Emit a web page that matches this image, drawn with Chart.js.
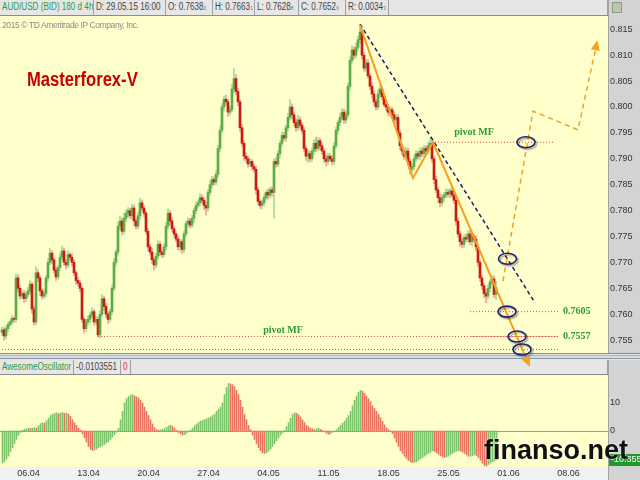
<!DOCTYPE html>
<html>
<head>
<meta charset="utf-8">
<title>AUD/USD 4h</title>
<script src="https://cdn.jsdelivr.net/npm/chart.js@4.4.1/dist/chart.umd.min.js"></script>
<style>
body{margin:0;width:640px;height:480px;overflow:hidden;background:#d3d3d3;position:relative;font-family:"Liberation Sans",Arial,sans-serif}
.strip{position:absolute;left:0;width:608px;background:#e6e6e6;border-bottom:1px solid #8c8c8c;box-sizing:border-box}
.cell{position:absolute;top:0;bottom:0;line-height:14px;font-size:10px;color:#444;border-right:1px solid #a0a0a0;padding-left:2px;box-sizing:border-box;white-space:nowrap;overflow:hidden}
.cell span{display:inline-block;transform:scaleX(0.81);transform-origin:0 50%}
.cell small{font-size:6px;color:#777}
#sep{position:absolute;left:0;top:353px;width:640px;height:7px;background:linear-gradient(#7f8a96 0 1px,#e8ebee 1px 2px,#a9b1ba 2px 3px,#d8dce0 3px 5px,#8e98a3 5px 6px,#e6e6e6 6px)}
#dates{position:absolute;left:0;top:467px;width:608px;height:13px;background:#f1f1f1}
#rightcol{position:absolute;left:608px;top:0;width:32px;height:480px;border-left:1px solid #a3a3a3;box-sizing:border-box}
#icon{position:absolute;left:612px;top:2px;width:10px;height:11px;background:#b9c6b2;border:1px solid #8d9c84;box-sizing:border-box}
canvas{position:absolute;left:0}
#main{top:16px;z-index:2}
#osc{top:375px;z-index:2}
#brand{position:absolute;left:27px;top:69px;font-weight:bold;font-size:20px;line-height:20px;color:#c80000;transform:scaleX(0.83);transform-origin:0 0;z-index:3;white-space:nowrap}
#copy{position:absolute;left:2px;top:20px;font-size:8.5px;line-height:11px;letter-spacing:-0.4px;color:#8b8b8b;z-index:3;white-space:nowrap}
#mark{position:absolute;left:484px;top:437px;font-weight:bold;font-size:27px;line-height:27px;color:#111;text-shadow:0 0 2px #fff;z-index:5;white-space:nowrap}
</style>
</head>
<body>

<div id="rightcol"></div>
<div id="icon"></div>

<div class="strip" style="top:0;height:16px">
  <div class="cell" style="left:0;width:94px;color:#2e9a3e"><span>AUD/USD (BID) 180 d 4h</span></div>
  <div class="cell" style="left:94px;width:72px"><span>D: 29.05.15 16:00</span></div>
  <div class="cell" style="left:166px;width:47px"><span>O: 0.7638<small>2</small></span></div>
  <div class="cell" style="left:213px;width:42px"><span>H: 0.7663<small>1</small></span></div>
  <div class="cell" style="left:255px;width:44px"><span>L: 0.7628<small>8</small></span></div>
  <div class="cell" style="left:299px;width:47px"><span>C: 0.7652<small>6</small></span></div>
  <div class="cell" style="left:346px;width:43px"><span>R: 0.0034<small>3</small></span></div>
  <div class="cell" style="left:389px;width:219px"></div>
</div>

<div id="sep"></div>

<div class="strip" style="top:360px;height:15px">
  <div class="cell" style="left:0;width:74px;color:#2e9a3e"><span>AwesomeOscillator</span></div>
  <div class="cell" style="left:74px;width:47px"><span>-0.0103551</span></div>
  <div class="cell" style="left:121px;width:10px;color:#e03030"><span>0</span></div>
  <div class="cell" style="left:131px;width:477px"></div>
</div>

<div id="dates"></div>

<canvas id="main" width="640" height="357"></canvas>
<canvas id="osc" width="640" height="105"></canvas>

<div id="copy">2015 © TD Ameritrade IP Company, Inc.</div>
<div id="brand">Masterforex-V</div>
<div id="mark">finanso.net</div>

<script>
// ------------------------------------
// PRICE DATA (4h bars, in pips)
// ------------------------------------

const firstOpen = 7565

const closePips = [
7570, 7558, 7572, 7580, 7585, 7592, 7590, 7670, 7650, 7635,
7640, 7630, 7638, 7645, 7658, 7610, 7585, 7680, 7670, 7645,
7635, 7640, 7670, 7700, 7718, 7705, 7685, 7672, 7690, 7710,
7722, 7700, 7695, 7715, 7710, 7700, 7680, 7665, 7660, 7650,
7590, 7572, 7585, 7590, 7598, 7605, 7585, 7590, 7560, 7600,
7630, 7615, 7600, 7590, 7605, 7650, 7700, 7720, 7770, 7780,
7760, 7785, 7795, 7800, 7790, 7805, 7780, 7770, 7790, 7815,
7805, 7795, 7760, 7730, 7720, 7705, 7695, 7712, 7735, 7720,
7715, 7730, 7770, 7795, 7780, 7765, 7755, 7745, 7730, 7740,
7725, 7755, 7775, 7780, 7772, 7785, 7800, 7810, 7815, 7825,
7820, 7810, 7805, 7835, 7850, 7860, 7855, 7870, 7920, 7955,
8000, 8015, 8010, 7990, 7995, 8035, 8055, 8030, 8010, 7960,
7930, 7905, 7900, 7890, 7895, 7885, 7880, 7840, 7818, 7810,
7815, 7825, 7835, 7830, 7840, 7835, 7895, 7890, 7910, 7930,
7945, 7940, 7960, 7980, 8000, 7985, 7970, 7960, 7975, 7965,
7955, 7920, 7905, 7910, 7900, 7915, 7930, 7920, 7935, 7925,
7915, 7900, 7895, 7905, 7900, 7895, 7925, 7955, 7970, 7980,
7990, 7975, 7985, 8040, 8090, 8110, 8100, 8115, 8130, 8145,
8100, 8075, 8085, 8060, 8040, 8025, 8010, 8000, 8025, 8035,
8020, 8005, 8000, 7990, 7995, 7985, 7975, 7980, 7950, 7925,
7915, 7905, 7915, 7895, 7880, 7885, 7900, 7910, 7905, 7915,
7910, 7920, 7915, 7925, 7930, 7900, 7860, 7840, 7825, 7815,
7825, 7830, 7835, 7832, 7838, 7830, 7820, 7780, 7755, 7740,
7735, 7748, 7745, 7755, 7740, 7750, 7745, 7730, 7700, 7670,
7655, 7640, 7635, 7650, 7662, 7668, 7638, 7652
]

// wick lengths above / below the body, pips
const wickUp = [
5, 4, 6, 5, 4, 6, 3, 8, 6, 5,
4, 6, 5, 7, 8, 4, 5, 12, 6, 5,
4, 6, 5, 7, 9, 5, 4, 6, 5, 7,
10, 6, 5, 8, 4, 6, 5, 4, 6, 5,
4, 5, 6, 7, 5, 8, 4, 6, 5, 7,
8, 5, 6, 4, 5, 6, 7, 5, 8, 9,
6, 10, 7, 6, 5, 8, 6, 5, 7, 9,
6, 5, 4, 6, 5, 7, 5, 6, 8, 5,
4, 6, 7, 9, 5, 6, 4, 5, 6, 5,
4, 6, 5, 7, 5, 6, 5, 7, 6, 8,
6, 5, 7, 6, 8, 6, 5, 7, 6, 8,
7, 6, 8, 5, 7, 9, 20, 8, 6, 5,
6, 5, 7, 5, 6, 4, 5, 6, 5, 4,
5, 6, 4, 7, 5, 6, 5, 7, 6, 5,
7, 6, 5, 8, 14, 6, 5, 7, 9, 6,
5, 6, 5, 8, 5, 6, 7, 12, 6, 5,
6, 5, 7, 6, 5, 6, 7, 6, 5, 8,
7, 6, 8, 6, 7, 8, 6, 9, 7, 13,
6, 5, 7, 6, 5, 7, 6, 5, 8, 6,
5, 6, 7, 5, 6, 5, 7, 6, 5, 6,
5, 6, 7, 5, 6, 5, 7, 6, 5, 6,
7, 6, 5, 7, 9, 6, 5, 6, 5, 7,
6, 5, 7, 6, 5, 6, 7, 5, 6, 5,
6, 5, 7, 6, 8, 6, 5, 7, 6, 5,
6, 5, 7, 6, 5, 7, 6, 11
]

const wickDn = [
6, 8, 5, 6, 4, 5, 6, 5, 7, 6,
5, 7, 6, 5, 6, 8, 6, 5, 7, 9,
6, 5, 7, 6, 5, 8, 6, 7, 5, 6,
5, 6, 8, 5, 6, 7, 5, 8, 6, 7,
6, 8, 5, 6, 7, 5, 6, 5, 4, 6,
5, 7, 6, 8, 5, 6, 5, 7, 6, 8,
7, 5, 6, 8, 6, 7, 9, 6, 5, 7,
6, 7, 5, 8, 6, 7, 10, 5, 6, 7,
6, 5, 7, 6, 8, 6, 7, 5, 6, 8,
7, 6, 5, 7, 6, 5, 8, 6, 5, 7,
6, 8, 14, 6, 5, 7, 6, 5, 7, 6,
5, 7, 6, 8, 6, 5, 7, 6, 8, 7,
6, 8, 7, 6, 5, 7, 6, 8, 7, 6,
7, 6, 5, 8, 6, 7, 50, 6, 5, 7,
6, 5, 7, 6, 5, 8, 6, 7, 5, 6,
7, 6, 8, 12, 6, 5, 7, 6, 5, 8,
6, 7, 9, 6, 5, 7, 6, 5, 7, 6,
5, 7, 6, 5, 7, 6, 8, 5, 6, 7,
8, 6, 7, 5, 6, 8, 7, 6, 5, 7,
6, 5, 7, 6, 8, 6, 5, 7, 6, 8,
7, 6, 5, 8, 10, 6, 7, 5, 6, 7,
6, 5, 7, 6, 5, 7, 8, 6, 9, 7,
6, 7, 5, 6, 7, 5, 6, 8, 7, 9,
7, 6, 5, 7, 6, 8, 6, 7, 8, 6,
7, 8, 13, 6, 7, 5, 6, 10
]

// Awesome Oscillator, one value per bar (x1000)
const aoValues = [
-11.5, -11, -10, -9, -7.5, -6, -4.5, -3, -1.5, -0.5,
0.3, 0.6, 0.8, 1, 0.9, 1, 1.2, 1,
1.8, 2.6, 3, 2.8, 3.6, 4.5, 5.5,
6, 6.3, 6.5, 6.2, 6.4, 6.6, 6.3, 6.4, 6, 5.2, 4,
3, 2, 1, 0.3,
-1, -2.5, -4, -5.5, -6.5, -7,
-6.8, -6.5, -6, -5.7, -5.2, -4.8, -4.2, -3.8, -3, -2.2, -1.3, -0.5,
1, 4, 7, 10, 11.5, 12.3, 12.8, 13, 12.6,
12.2, 11.8, 11, 10, 8.5, 7, 5.5, 4, 2.5, 1.2,
0.5, 0.3, 0.4, 0.6, 0.8,
1.3, 1.8, 2.1, 1.7, 1,
0.2, -0.5, -1, -1.5, -1.3, -0.8, -0.3,
0.3, 1, 1.8, 2.5, 3, 3.5, 3.8, 4, 4.3, 4.6, 5,
5.5, 6, 7, 7.8, 8.5, 10,
13, 15.5, 17,
16.8, 16.5, 15.8, 14.5, 13, 11, 8.5, 6,
4, 2, 0.5,
-1.5, -3, -4.5, -6, -7, -7.8, -8,
-7.8, -7.2, -6.5, -5.5, -4.5, -3.5, -2.5, -1.5, -0.7, 0.2,
1.5, 3, 4.5, 5.8, 6.5, 6.3,
5.8, 5, 4, 3, 2, 1.5, 1, 0.8, 0.5,
0.8, 1, 0.6, 0.2, -0.3, -0.8, -1.2, -1, -0.5, 0,
0.5, 1.2, 2, 2.8, 3.5, 4.5,
5.5, 7, 9, 11, 12.5, 13.8, 14.5,
14.2, 13.5, 12.5, 11.5, 10.5, 9, 8, 7, 6, 4.8, 3.5, 2.2,
1.2, 0.5, 0,
-1, -2.5, -4, -5.5, -7, -8, -9, -9.8, -10.5, -11, -11.3, -11.2, -11,
-10.5, -10, -9.5, -9, -8.5, -8, -7.5, -7,
-7.3, -7.8, -8.3, -8.8, -9.2, -9.5,
-9.3, -9, -8.5, -8, -7.5, -7.2, -7, -7.2,
-7.5, -8, -8.5, -9, -9, -8.8, -8.5, -8.8, -9.5, -10.5, -11.5, -12.3,
-12.5, -12, -11.5, -11, -10.6, -10.355
]

// date ticks (bar index of each week start) and their labels
const weekBars = [13, 43, 73, 103, 133, 163, 193, 223, 253, 283]
const weekLabels = ["06.04", "13.04", "20.04", "27.04", "04.05", "11.05", "18.05", "25.05", "01.06", "08.06"]

// axis ranges
const priceMin = 0.75251
const priceMax = 0.81757
const priceStep = 0.005
const aoMin = -12.86
const aoMax = 20
const aoTicks = [0, 10]

// ------------------------------------
// DRAWN ANALYSIS (levels, trend lines, rings, notes)
// ------------------------------------

const levelPrice = [0.7932, 0.7605, 0.7557, 0.7532, 0.7557]
const levelFrom = [215, 234, 48, 0, 234]
const levelTo = [276.5, 278, 278, 279, 278]

const trendBar = [179, 266.5]
const trendPrice = [0.8160, 0.7622]

const zigBar = [179, 205.5, 215.5, 263.5]
const zigPrice = [0.8158, 0.7863, 0.7932, 0.7502]

const projBar = [250.5, 265.5, 288, 297.5]
const projPrice = [0.7664, 0.7992, 0.7956, 0.8125]

const ringBar = [262, 252.75, 252.5, 257.5, 260]
const ringPrice = [0.7932, 0.7707, 0.7605, 0.7557, 0.7532]

const noteText = ["pivot MF", "pivot MF", "0.7605", "0.7557"]
const noteBar = [236, 140.5, 280.5, 280.5]
const notePrice = [0.7950, 0.7569, 0.7605, 0.7557]
const noteAlign = ["center", "center", "left", "left"]


// ------------------------------------
// BUILD CANDLES
// ------------------------------------

const bodyData = []
const wickData = []
const bodyColors = []
const wickColors = []

let prevClose = firstOpen
closePips.forEach((c, i) => {
    const o = prevClose
    const up = c >= o
    const hi = Math.max(o, c) + wickUp[i]
    const lo = Math.min(o, c) - wickDn[i]
    bodyData.push({x: i, y: [o / 10000, c / 10000]})
    wickData.push({x: i, y: [lo / 10000, hi / 10000]})
    bodyColors.push(up ? "#5aad45" : "#cc1a10")
    wickColors.push(up ? "#a9d99a" : "#eba3a0")
    prevClose = c
})

const aoData = aoValues.map((v, i) => ({x: i, y: v}))
const aoColors = aoValues.map((v, i) => (i > 0 && v < aoValues[i - 1]) ? "#e8735e" : "#7cc46a")

const pts = (bars, prices) => bars.map((b, k) => ({x: b, y: prices[k]}))

const lineSets = []

levelPrice.forEach((p, k) => {
    lineSets.push({
        type: "line",
        data: [{x: levelFrom[k], y: p}, {x: levelTo[k], y: p}],
        borderColor: "#e24a4a", borderWidth: 1, borderDash: [1, 2],
        borderDashOffset: k === 4 ? 1.5 : 0,
        pointRadius: 0, order: 1
    })
})

lineSets.push({
    type: "line", data: pts(trendBar, trendPrice),
    borderColor: "#1d1d6e", borderWidth: 1.5, borderDash: [4, 3],
    pointRadius: 0, order: 1, clip: false
})

lineSets.push({
    type: "line", data: pts(zigBar, zigPrice),
    borderColor: "#f5a020", borderWidth: 2,
    pointRadius: 0, order: 0, clip: false
})

lineSets.push({
    type: "line", data: pts(projBar, projPrice),
    borderColor: "#f5a020", borderWidth: 1.5, borderDash: [5, 4],
    pointRadius: 0, order: 0, clip: false
})


// ------------------------------------
// PLUGINS
// ------------------------------------

const FONT = "'Liberation Sans', Arial, sans-serif"

const paperPlugin = {
    id: "paper",
    beforeDraw(chart) {
        const {ctx, chartArea: a} = chart
        ctx.save()
        ctx.fillStyle = "#ffffcc"
        ctx.fillRect(a.left, a.top, a.right - a.left, a.bottom - a.top)
        ctx.restore()
    }
}

function arrowHead(ctx, xs, ys, bars, prices, color) {
    const n = bars.length
    const x1 = xs.getPixelForValue(bars[n - 2]), y1 = ys.getPixelForValue(prices[n - 2])
    const x2 = xs.getPixelForValue(bars[n - 1]), y2 = ys.getPixelForValue(prices[n - 1])
    ctx.save()
    ctx.translate(x2, y2)
    ctx.rotate(Math.atan2(y2 - y1, x2 - x1))
    ctx.fillStyle = color
    ctx.beginPath()
    ctx.moveTo(2, 0)
    ctx.lineTo(-8, -4.5)
    ctx.lineTo(-8, 4.5)
    ctx.closePath()
    ctx.fill()
    ctx.restore()
}

const notesPlugin = {
    id: "notes",
    afterDatasetsDraw(chart) {
        const {ctx, scales: {x, y}} = chart

        ringBar.forEach((b, k) => {
            ctx.save()
            ctx.shadowColor = "rgba(70,70,70,0.55)"
            ctx.shadowOffsetX = 1.5
            ctx.shadowOffsetY = 1.5
            ctx.shadowBlur = 1.5
            ctx.strokeStyle = "#1d1d78"
            ctx.lineWidth = 1.6
            ctx.beginPath()
            ctx.ellipse(x.getPixelForValue(b), y.getPixelForValue(ringPrice[k]), 9, 5.5, 0, 0, Math.PI * 2)
            ctx.stroke()
            ctx.restore()
        })

        arrowHead(ctx, x, y, zigBar, zigPrice, "#f5a020")
        arrowHead(ctx, x, y, projBar, projPrice, "#f5a020")

        ctx.save()
        ctx.font = "bold 10px 'Liberation Serif', 'Times New Roman', serif"
        ctx.fillStyle = "#2f9a36"
        ctx.textBaseline = "middle"
        noteText.forEach((t, k) => {
            ctx.textAlign = noteAlign[k]
            ctx.fillText(t, x.getPixelForValue(noteBar[k]), y.getPixelForValue(notePrice[k]))
        })
        ctx.restore()
    }
}

const aoPlugin = {
    id: "aoExtras",
    afterDatasetsDraw(chart) {
        const {ctx, chartArea: a, scales: {y}} = chart
        const y0 = Math.round(y.getPixelForValue(0)) + 0.5
        ctx.save()
        ctx.strokeStyle = "#f07c64"
        ctx.lineWidth = 1
        ctx.beginPath()
        ctx.moveTo(a.left, y0)
        ctx.lineTo(a.right, y0)
        ctx.stroke()

        const last = aoValues[aoValues.length - 1]
        const yl = y.getPixelForValue(last)
        ctx.fillStyle = "#1f9a2a"
        ctx.fillRect(a.right + 1, yl - 6, 31, 12)
        ctx.fillStyle = "#ffffff"
        ctx.font = "9px " + FONT
        ctx.textBaseline = "middle"
        ctx.fillText(last.toFixed(3), a.right + 3, yl)
        ctx.restore()
    }
}

// no label overflow padding: the plot must fill its panel exactly
function fixWidth(s) {
    s.width = 32
    s.paddingTop = 0
    s.paddingBottom = 0
}


// ------------------------------------
// PRICE CHART
// ------------------------------------

new Chart(document.getElementById("main"), {
    type: "bar",
    data: {
        datasets: [
            {data: wickData, backgroundColor: wickColors, barThickness: 1, grouped: false, order: 3},
            {data: bodyData, backgroundColor: bodyColors, barThickness: 2, grouped: false, order: 2},
            ...lineSets
        ]
    },
    options: {
        responsive: false,
        animation: false,
        layout: {padding: {left: 0, right: 0, top: 0, bottom: 20}},
        plugins: {legend: {display: false}, tooltip: {enabled: false}},
        scales: {
            x: {type: "linear", min: -1, max: 303, display: false, offset: false},
            y: {
                position: "right",
                min: priceMin, max: priceMax,
                grid: {display: false, drawTicks: false},
                border: {display: false},
                ticks: {stepSize: priceStep, includeBounds: false, padding: 2, color: "#333", font: {size: 9, family: FONT}},
                afterFit: fixWidth
            }
        }
    },
    plugins: [paperPlugin, notesPlugin]
})


// ------------------------------------
// AWESOME OSCILLATOR
// ------------------------------------

new Chart(document.getElementById("osc"), {
    type: "bar",
    data: {
        datasets: [
            {data: aoData, backgroundColor: aoColors, barThickness: 1, grouped: false}
        ]
    },
    options: {
        responsive: false,
        animation: false,
        layout: {padding: 0},
        plugins: {legend: {display: false}, tooltip: {enabled: false}},
        scales: {
            x: {
                type: "linear", min: -1.25, max: 302.75, offset: false,
                grid: {display: false, drawTicks: false},
                border: {display: false},
                ticks: {
                    padding: 1, maxRotation: 0, autoSkip: false, color: "#333",
                    font: {size: 9, family: FONT},
                    callback: (v, i) => weekLabels[i]
                },
                afterBuildTicks(s) { s.ticks = weekBars.map(v => ({value: v})) },
                afterFit(s) { s.height = 13; s.paddingLeft = 0; s.paddingRight = 0 }
            },
            y: {
                position: "right",
                min: aoMin, max: aoMax,
                grid: {display: false, drawTicks: false},
                border: {display: false},
                ticks: {padding: 2, color: "#333", font: {size: 9, family: FONT}},
                afterBuildTicks(s) { s.ticks = aoTicks.map(v => ({value: v})) },
                afterFit: fixWidth
            }
        }
    },
    plugins: [paperPlugin, aoPlugin]
})
</script>
</body>
</html>
